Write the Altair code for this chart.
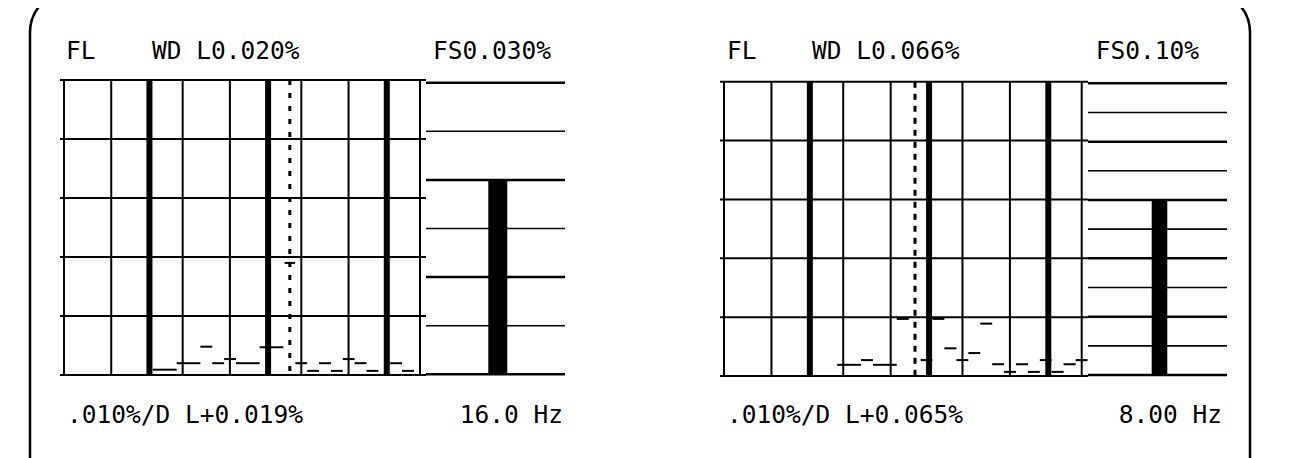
import altair as alt
import pandas as pd

# ---------------- data ----------------
FREQ_DOMAIN = [0.2, 200]                      # Hz, log axis of the spectrum
grid_thin_hz = [0.2, 0.5, 2, 5, 20, 50, 200]
grid_decade_hz = [1, 10, 100]
main_levels = [0.0, 0.01, 0.02, 0.03, 0.04, 0.05]   # .010 %/division, 5 divisions
MAIN_FS = 0.05

# left panel (FS 0.030 %)
left_dash_lo = [1.12, 1.78, 2.82, 3.55, 4.47, 5.62, 8.91, 17.8, 22.4, 28.2, 35.5, 44.7, 56.2, 70.8, 112, 141]
left_dash_hi = [1.78, 2.82, 3.55, 4.47, 5.62, 8.91, 14.1, 22.4, 28.2, 35.5, 44.7, 56.2, 70.8, 89.1, 141, 178]
left_dash_level = [0.0009, 0.0020, 0.0048, 0.0020, 0.0027, 0.0020, 0.0047, 0.0020, 0.0007, 0.0020,
                   0.0007, 0.0027, 0.0020, 0.0007, 0.0020, 0.0007]
left_cursor_hz = 16.0
left_cursor_level = 0.019
left_wd_value = 0.020
left_fs = 0.030
left_bar_major = [0.0, 0.01, 0.02, 0.03]
left_bar_minor = [0.005, 0.015, 0.025]
left_top_texts = ["FL", "WD L0.020%", "FS0.030%"]
left_bottom_texts = [".010%/D L+0.019%", "16.0 Hz"]

# right panel (FS 0.10 %)
right_dash_lo = [1.78, 2.82, 3.55, 5.62, 8.91, 11.2, 14.1, 17.8, 22.4, 28.2, 35.5, 44.7, 56.2, 70.8, 89.1, 112, 141, 178]
right_dash_hi = [2.82, 3.55, 5.62, 7.08, 11.2, 14.1, 17.8, 22.4, 28.2, 35.5, 44.7, 56.2, 70.8, 89.1, 112, 141, 178, 224]
right_dash_level = [0.0019, 0.0027, 0.0019, 0.0097, 0.0027, 0.0097, 0.0047, 0.0027, 0.0039, 0.0089,
                    0.0020, 0.0007, 0.0020, 0.0007, 0.0027, 0.0007, 0.0020, 0.0027]
right_cursor_hz = 8.0
right_cursor_level = 0.065          # above the 0.05 % full scale: no marker shown
right_wd_value = 0.060
right_fs = 0.10
right_bar_major = [0.0, 0.02, 0.04, 0.06, 0.08, 0.10]
right_bar_minor = [0.01, 0.03, 0.05, 0.07, 0.09]
right_top_texts = ["FL", "WD L0.066%", "FS0.10%"]
right_bottom_texts = [".010%/D L+0.065%", "8.00 Hz"]

FONT = "DejaVu Sans Mono"
FONT_SIZE = 24.5


def text_layer(label, x, y, align):
    return alt.Chart(pd.DataFrame({"t": [label]})).mark_text(
        font=FONT, fontSize=FONT_SIZE, align=align, baseline="alphabetic", color="black"
    ).encode(x=alt.value(x), y=alt.value(y), text="t:N")


def panel(g, dash_lo, dash_hi, dash_lvl, cursor_hz, cursor_lvl, wd, fs,
          bar_major, bar_minor, top_texts, bottom_texts, dash_pattern):
    xs = alt.Scale(type="log", domain=FREQ_DOMAIN, range=[g["x0"], g["x1"]])
    ys = alt.Scale(domain=[0, MAIN_FS], range=[g["yb"], g["yt"]])
    bys = alt.Scale(domain=[0, fs], range=[g["byb"], g["byt"]])
    bxs = alt.Scale(domain=["WD"], range=[g["bar0"], g["bar1"]], paddingInner=0, paddingOuter=0)
    layers = []
    # horizontal grid of spectrum area
    layers.append(alt.Chart(pd.DataFrame({"lvl": main_levels})).mark_rule(
        color="black", strokeWidth=2).encode(
        y=alt.Y("lvl:Q", scale=ys, axis=None),
        x=alt.value(g["hx0"]), x2=alt.value(g["hx1"])))
    # thin vertical grid
    layers.append(alt.Chart(pd.DataFrame({"f": grid_thin_hz})).mark_rule(
        color="black", strokeWidth=2).encode(
        x=alt.X("f:Q", scale=xs, axis=None),
        y=alt.value(g["yt"]), y2=alt.value(g["yb"])))
    # decade lines (thick)
    layers.append(alt.Chart(pd.DataFrame({"f": grid_decade_hz})).mark_rule(
        color="black", strokeWidth=6, xOffset=2.5).encode(
        x=alt.X("f:Q", scale=xs, axis=None),
        y=alt.value(g["yt"]), y2=alt.value(g["yb"])))
    # spectrum dashes
    layers.append(alt.Chart(pd.DataFrame({"lo": dash_lo, "hi": dash_hi, "lvl": dash_lvl})).mark_rule(
        color="black", strokeWidth=2).encode(
        x=alt.X("lo:Q", scale=xs, axis=None), x2="hi:Q",
        y=alt.Y("lvl:Q", scale=ys, axis=None)))
    # cursor (dotted)
    layers.append(alt.Chart(pd.DataFrame({"f": [cursor_hz]})).mark_rule(
        color="black", strokeWidth=3, strokeDash=dash_pattern).encode(
        x=alt.X("f:Q", scale=xs, axis=None),
        y=alt.value(g["yt"]), y2=alt.value(g["yb"])))
    if cursor_lvl <= MAIN_FS:
        layers.append(alt.Chart(pd.DataFrame({"f": [cursor_hz], "lvl": [cursor_lvl]})).mark_point(
            shape="stroke", size=110, strokeWidth=2, color="black", opacity=1).encode(
            x=alt.X("f:Q", scale=xs, axis=None),
            y=alt.Y("lvl:Q", scale=ys, axis=None)))
    # bar meter area
    layers.append(alt.Chart(pd.DataFrame({"lvl": bar_major})).mark_rule(
        color="black", strokeWidth=2.5).encode(
        y=alt.Y("lvl:Q", scale=bys, axis=None),
        x=alt.value(g["bx0"]), x2=alt.value(g["bx1"])))
    layers.append(alt.Chart(pd.DataFrame({"lvl": bar_minor})).mark_rule(
        color="black", strokeWidth=1.6).encode(
        y=alt.Y("lvl:Q", scale=bys, axis=None),
        x=alt.value(g["bx0"]), x2=alt.value(g["bx1"])))
    layers.append(alt.Chart(pd.DataFrame({"m": ["WD"], "v": [wd]})).mark_bar(
        color="black").encode(
        x=alt.X("m:N", scale=bxs, axis=None),
        y=alt.Y("v:Q", scale=bys, axis=None)))
    # texts
    layers.append(text_layer(top_texts[0], g["tx0"], g["ty"], "left"))
    layers.append(text_layer(top_texts[1], g["tx1"], g["ty"], "left"))
    layers.append(text_layer(top_texts[2], g["tx2"], g["ty"], "right"))
    layers.append(text_layer(bottom_texts[0], g["bx_t0"], g["by_t"], "left"))
    layers.append(text_layer(bottom_texts[1], g["bx_t1"], g["by_t"], "right"))
    return layers


left_geom = dict(x0=56, x1=412, yt=72, yb=367, hx0=52, hx1=418,
                 bx0=418, bx1=557, byb=366.3, byt=74.7, bar0=480.3, bar1=499.3,
                 tx0=58, tx1=144, tx2=543, ty=51, bx_t0=59, bx_t1=555, by_t=415)
right_geom = dict(x0=716, x1=1073.7, yt=73.7, yb=368, hx0=712, hx1=1080,
                  bx0=1080, bx1=1219, byb=367, byt=75.3, bar0=1143.7, bar1=1159.3,
                  tx0=719, tx1=804, tx2=1191, ty=51, bx_t0=719, bx_t1=1214, by_t=415)

layers = []
layers += panel(left_geom, left_dash_lo, left_dash_hi, left_dash_level, left_cursor_hz,
                left_cursor_level, left_wd_value, left_fs, left_bar_major, left_bar_minor,
                left_top_texts, left_bottom_texts, [5, 8])
layers += panel(right_geom, right_dash_lo, right_dash_hi, right_dash_level, right_cursor_hz,
                right_cursor_level, right_wd_value, right_fs, right_bar_major, right_bar_minor,
                right_top_texts, right_bottom_texts, [6, 6])

# rounded outer frame of the display
frame = alt.Chart(pd.DataFrame({"k": [0]})).mark_rect(
    filled=False, stroke="black", strokeWidth=2.5, cornerRadius=40).encode(
    x=alt.value(22), x2=alt.value(1242), y=alt.value(-16), y2=alt.value(490))
layers.append(frame)

chart = alt.layer(*layers).resolve_scale(x="independent", y="independent").properties(
    width=1284, height=450, padding=0,
    autosize=alt.AutoSizeParams(type="none"),
    background="white",
).configure_view(stroke=None)

chart.save("out.html", embed_options={"renderer": "svg", "actions": False})
